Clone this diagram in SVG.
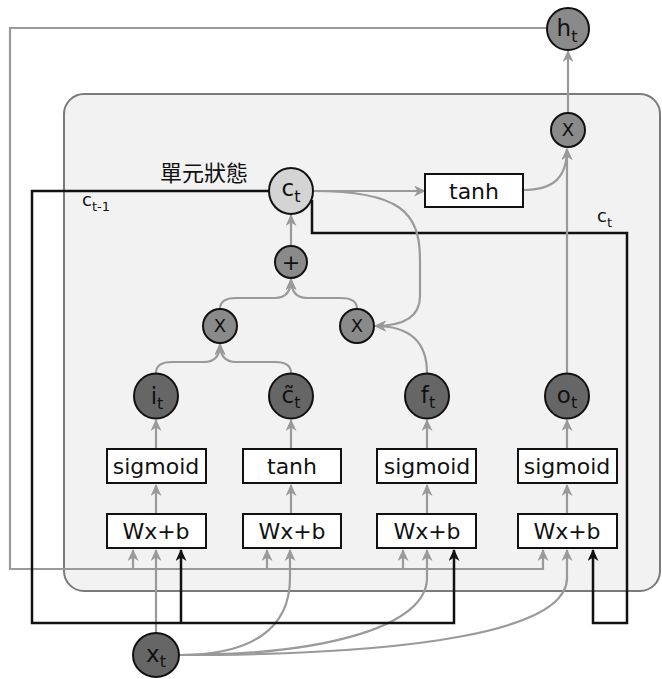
<svg xmlns="http://www.w3.org/2000/svg" width="662" height="679" viewBox="0 0 662 679">
<style>
.g{fill:none;stroke:#9a9a9a;stroke-width:2.2}
.k{fill:none;stroke:#111;stroke-width:2.5}
.ga{marker-end:url(#ag)}
.ka{marker-end:url(#ak)}
.box{fill:#fff;stroke:#111;stroke-width:2}
.dark{fill:#666;stroke:#111;stroke-width:2}
.mid{fill:#8a8a8a;stroke:#111;stroke-width:2}
.light{fill:#d4d4d4;stroke:#111;stroke-width:2}
text{font-family:"DejaVu Sans","Liberation Sans",sans-serif;fill:#111}
.bt{font-size:22px;text-anchor:middle}
.lb{font-size:23px;text-anchor:middle}
.op{font-size:18px;text-anchor:middle}
.sub{font-size:16px}
</style>
<defs>
<marker id="ag" markerWidth="12" markerHeight="11" refX="11" refY="5.5" orient="auto" markerUnits="userSpaceOnUse">
<path d="M0,0 L12,5.5 L0,11 L3.5,5.5 z" fill="#9a9a9a"/>
</marker>
<marker id="ak" markerWidth="12" markerHeight="11" refX="11" refY="5.5" orient="auto" markerUnits="userSpaceOnUse">
<path d="M0,0 L12,5.5 L0,11 L3.5,5.5 z" fill="#111"/>
</marker>
</defs>
<rect id="cell" x="64" y="94" width="596" height="497" rx="20" fill="#f2f2f2" stroke="#7a7a7a" stroke-width="2"/>
<text x="160" y="181" font-size="22" style="font-family:'Noto Sans CJK TC','Noto Sans CJK SC',sans-serif">單元狀態</text>
<text x="82" y="206" font-size="18">c<tspan font-size="13" dy="5">t-1</tspan></text>
<text x="597" y="222" font-size="18">c<tspan font-size="13" dy="5">t</tspan></text>
<g id="connectors">
<path class="g" d="M546,28 L10,28 L10,569 L543,569 L543,550" marker-end="url(#ag)"/>
<path class="g ga" d="M133,569 L133,550"/>
<path class="g ga" d="M267,569 L267,550"/>
<path class="g ga" d="M403,569 L403,550"/>
<path class="g ga" d="M156,633 L156,550"/>
<path class="g ga" d="M179,655 C250,655 290,630 290,578 L290,550"/>
<path class="g ga" d="M179,655 C330,655 427,625 427,578 L427,550"/>
<path class="g ga" d="M179,655 C420,655 567,630 567,578 L567,550"/>
<path class="k ka" d="M269,191 L32,191 L32,623 L454,623 L454,550"/>
<path class="k ka" d="M181,623 L181,550"/>
<path class="k ka" d="M312,200 L312,233 L627,233 L627,623 L593,623 L593,550"/>
<path class="g ga" d="M156,514 L156,485"/>
<path class="g ga" d="M291,514 L291,485"/>
<path class="g ga" d="M427,514 L427,485"/>
<path class="g ga" d="M567,514 L567,485"/>
<path class="g ga" d="M156,449 L156,420"/>
<path class="g ga" d="M291,449 L291,420"/>
<path class="g ga" d="M427,449 L427,420"/>
<path class="g ga" d="M567,449 L567,420"/>
<path class="g ga" d="M156,373 Q156,362 172,362 L204,362 Q220,362 220,344"/>
<path class="g ga" d="M291,373 Q291,362 275,362 L236,362 Q220,362 220,344"/>
<path class="g ga" d="M220,309 Q220,298 236,298 L275,298 Q291,298 291,279"/>
<path class="g ga" d="M357,309 Q357,298 341,298 L307,298 Q291,298 291,279"/>
<path class="g ga" d="M291,246 L291,215"/>
<path class="g ga" d="M427,373 C427,342 410,326 375,326"/>
<path class="g ga" d="M313,191 C400,191 420,212 420,260 L420,296 C420,316 405,326 375,326"/>
<path class="g ga" d="M313,191 L425,191"/>
<path class="g ga" d="M523,190 C553,190 567,178 567,149"/>
<path class="g ga" d="M567,373 L567,149"/>
<path class="g ga" d="M568,113 L568,51"/>
</g>
<g id="ct"><ellipse class="light" cx="291" cy="191" rx="22" ry="23"/><text class="lb" x="291" y="196">c<tspan class="sub" dy="6">t</tspan></text></g>
<g id="tanh_out"><rect class="box" x="425" y="174" width="98" height="33"/><text class="bt" x="474" y="199">tanh</text></g>
<g id="plus"><circle class="mid" cx="291" cy="262" r="16"/><text class="bt" x="291" y="270">+</text></g>
<g id="mul_i"><circle class="mid" cx="220" cy="326" r="17"/><text class="op" x="220" y="332">X</text></g>
<g id="mul_f"><circle class="mid" cx="357" cy="326" r="17"/><text class="op" x="357" y="332">X</text></g>
<g id="mul_o"><circle class="mid" cx="568" cy="130" r="17"/><text class="op" x="568" y="136">X</text></g>
<g id="ht"><circle class="mid" cx="568" cy="29" r="21"/><text class="lb" x="567" y="36">h<tspan class="sub" dy="6">t</tspan></text></g>
<g id="it"><ellipse class="dark" cx="156" cy="396" rx="22" ry="22.5"/><text class="lb" x="157" y="404">i<tspan class="sub" dy="5">t</tspan></text></g>
<g id="cct"><ellipse class="dark" cx="291" cy="396" rx="22" ry="22.5"/><text class="lb" x="291" y="403">c̃<tspan class="sub" dy="5">t</tspan></text></g>
<g id="ft"><ellipse class="dark" cx="427" cy="396" rx="22" ry="22.5"/><text class="lb" x="428" y="403">f<tspan class="sub" dy="5">t</tspan></text></g>
<g id="ot"><ellipse class="dark" cx="567" cy="396" rx="22" ry="22.5"/><text class="lb" x="567" y="403">o<tspan class="sub" dy="5">t</tspan></text></g>
<g id="sig_i"><rect class="box" x="107" y="449" width="99" height="34"/><text class="bt" x="156" y="474">sigmoid</text></g>
<g id="tanh_c"><rect class="box" x="243" y="449" width="98" height="34"/><text class="bt" x="292" y="474">tanh</text></g>
<g id="sig_f"><rect class="box" x="377" y="449" width="99" height="34"/><text class="bt" x="427" y="474">sigmoid</text></g>
<g id="sig_o"><rect class="box" x="518" y="449" width="99" height="34"/><text class="bt" x="567" y="474">sigmoid</text></g>
<g id="w_i"><rect class="box" x="107" y="514" width="99" height="34"/><text class="bt" x="156" y="539">Wx+b</text></g>
<g id="w_c"><rect class="box" x="243" y="514" width="98" height="34"/><text class="bt" x="292" y="539">Wx+b</text></g>
<g id="w_f"><rect class="box" x="377" y="514" width="99" height="34"/><text class="bt" x="427" y="539">Wx+b</text></g>
<g id="w_o"><rect class="box" x="518" y="514" width="99" height="34"/><text class="bt" x="567" y="539">Wx+b</text></g>
<g id="xt"><ellipse class="dark" cx="156" cy="655" rx="23" ry="22"/><text class="lb" x="156" y="662">x<tspan class="sub" dy="5">t</tspan></text></g>
</svg>
